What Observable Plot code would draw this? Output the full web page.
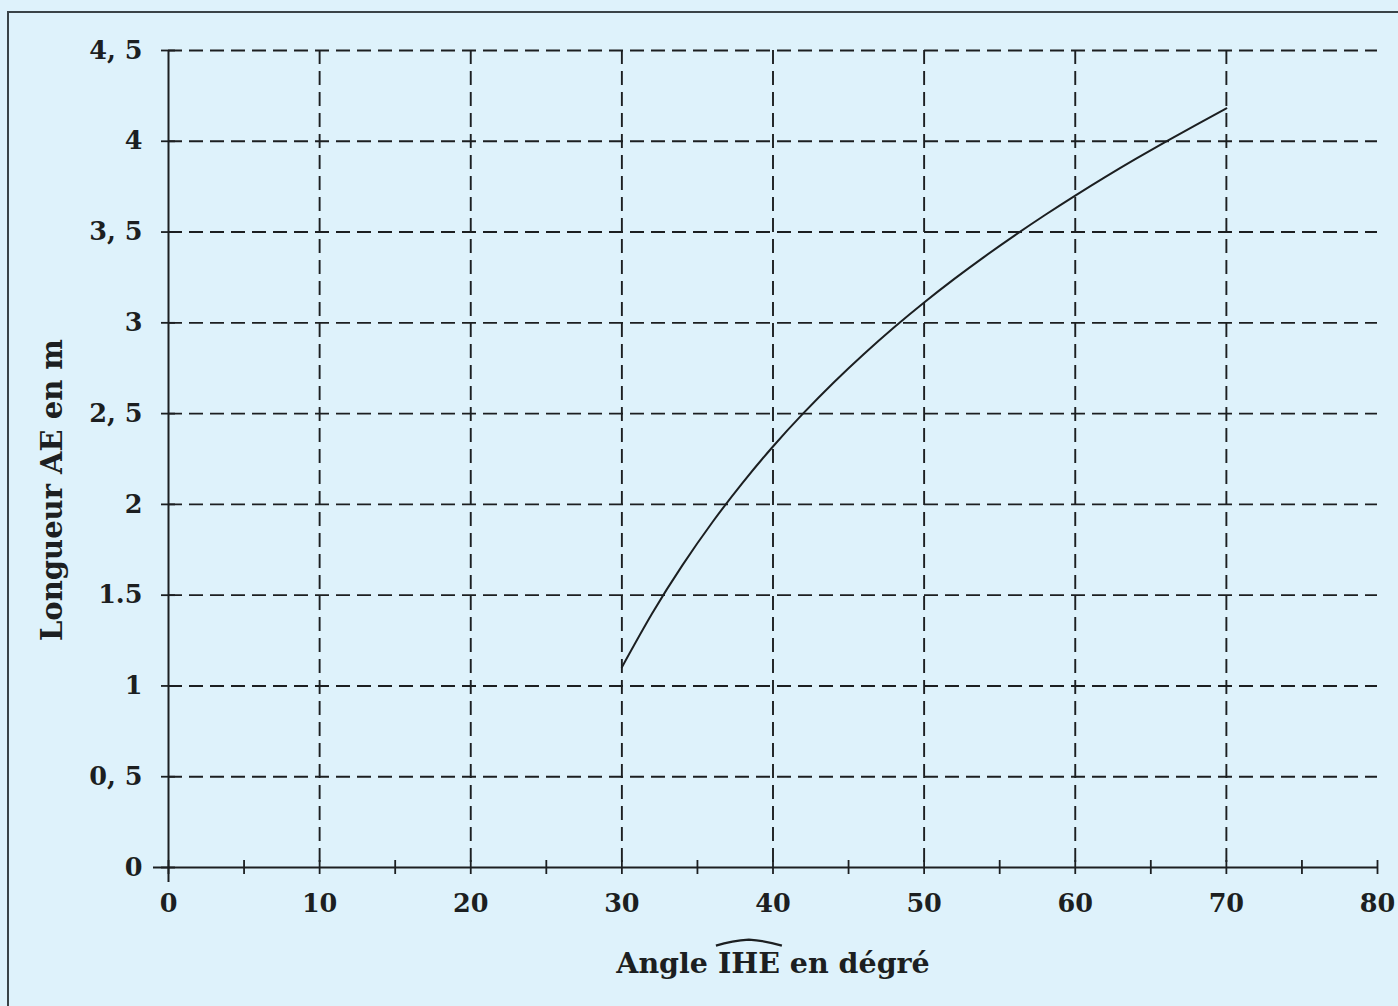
<!DOCTYPE html>
<html>
<head>
<meta charset="utf-8">
<script src="https://cdn.jsdelivr.net/npm/d3@7"></script>
<script src="https://cdn.jsdelivr.net/npm/@observablehq/plot@0.6"></script>
<style>
  html, body { margin: 0; padding: 0; background: #def2fb; width: 1398px; height: 1006px; overflow: hidden; }
  #frame { position: absolute; left: 7px; top: 11px; width: 1500px; height: 1100px;
           border-left: 2px solid #3a4347; border-top: 2px solid #3a4347; box-sizing: border-box; }
  #chart { position: absolute; left: 0; top: 0; }
</style>
</head>
<body>
<div id="frame"></div>
<div id="chart"></div>
<script>
// Curve values
const angles  = [30, 32, 34, 36, 38, 40, 42, 44, 46, 48, 50, 52, 54, 56, 58, 60, 62, 64, 66, 68, 70];
const lengths = [1.103, 1.399, 1.664, 1.903, 2.120, 2.319, 2.501, 2.670, 2.827, 2.974, 3.112, 3.242, 3.365, 3.482, 3.594, 3.701, 3.804, 3.903, 3.998, 4.091, 4.181];

// Axes
const xTicks = [0, 10, 20, 30, 40, 50, 60, 70, 80];
const xMinorTicks = [5, 15, 25, 35, 45, 55, 65, 75];
const xGrid = [10, 20, 30, 40, 50, 60, 70];
const yTicks = [0, 0.5, 1, 1.5, 2, 2.5, 3, 3.5, 4, 4.5];
const yTickLabels = ["0", "0, 5", "1", "1.5", "2", "2, 5", "3", "3, 5", "4", "4, 5"];
const yGrid = [0.5, 1, 1.5, 2, 2.5, 3, 3.5, 4, 4.5];
const xTitle = "Angle IHE en dégré";
const yTitle = "Longueur AE en m";

const ink = "#1c1f21";
const dash = "14,7";
const serif = "'DejaVu Serif', 'Liberation Serif', serif";

const curveData = angles.map((a, i) => ({angle: a, length: lengths[i]}));

const chart = Plot.plot({
  width: 1398,
  height: 1006,
  marginLeft: 168,
  marginRight: 21,
  marginTop: 50,
  marginBottom: 139,
  style: {background: "transparent", overflow: "visible"},
  x: {domain: [0, 80], axis: null},
  y: {domain: [0, 4.5], axis: null},
  marks: [
    // dashed grid
    Plot.ruleY(yGrid, {x1: 0, x2: 80, stroke: ink, strokeWidth: 1.9, strokeDasharray: dash}),
    Plot.ruleX(xGrid, {y1: 4.5, y2: 0, stroke: ink, strokeWidth: 1.9, strokeDasharray: dash}),
    // tick marks crossing the axes
    Plot.ruleY(yTicks, {x1: 0, x2: 0, insetLeft: -7, insetRight: -7, stroke: ink, strokeWidth: 1.8}),
    Plot.ruleX(xTicks.concat(xMinorTicks), {y1: 0, y2: 0, insetTop: -7, insetBottom: -7, stroke: ink, strokeWidth: 1.8}),
    // axis lines
    Plot.ruleY([0], {insetLeft: -15, stroke: ink, strokeWidth: 2}),
    Plot.ruleX([0], {insetBottom: -15, stroke: ink, strokeWidth: 2}),
    // curve
    Plot.line(curveData, {x: "angle", y: "length", curve: "natural", stroke: ink, strokeWidth: 2}),
    // tick labels
    Plot.text(xTicks, {x: d => d, y: 0, text: d => String(d), dy: 36, textAnchor: "middle", lineAnchor: "middle",
      fontFamily: serif, fontWeight: "bold", fontSize: 25.5, fill: ink}),
    Plot.text(yTicks, {x: 0, y: d => d, text: (d, i) => yTickLabels[i], dx: -26, textAnchor: "end", lineAnchor: "middle",
      fontFamily: serif, fontWeight: "bold", fontSize: 25.5, fill: ink}),
    // axis titles
    Plot.text([xTitle], {frameAnchor: "bottom", text: d => d, dy: 96, textAnchor: "middle", lineAnchor: "middle",
      fontFamily: serif, fontWeight: "bold", fontSize: 28.5, fill: ink}),
    Plot.text([yTitle], {frameAnchor: "left", text: d => d, rotate: -90, dx: -116, dy: 31, textAnchor: "middle", lineAnchor: "middle",
      fontFamily: serif, fontWeight: "bold", fontSize: 29, fill: ink})
  ]
});

document.getElementById("chart").appendChild(chart);

// wide hat over "IHE" in the x title
try {
  const t = Array.from(chart.querySelectorAll("text")).find(el => el.textContent === xTitle);
  if (t) {
    const start = xTitle.indexOf("IHE");
    const p0 = t.getStartPositionOfChar(start);
    const p1 = t.getEndPositionOfChar(start + 2);
    const m = t.getCTM();
    const x0 = m.a * p0.x + m.c * p0.y + m.e - 2;
    const x1 = m.a * p1.x + m.c * p1.y + m.e + 2;
    const base = m.b * p0.x + m.d * p0.y + m.f;
    const yEnd = base - 27, yPeak = base - 33;
    const mid = (x0 + x1) / 2;
    d3.select(chart).append("path")
      .attr("d", `M${x0},${yEnd} Q${(x0 + mid) / 2},${yPeak + 1} ${mid},${yPeak} Q${(mid + x1) / 2},${yPeak + 1} ${x1},${yEnd}`)
      .attr("fill", "none")
      .attr("stroke", ink)
      .attr("stroke-width", 2.2);
  }
} catch (e) { console.error(e); }
</script>
</body>
</html>
